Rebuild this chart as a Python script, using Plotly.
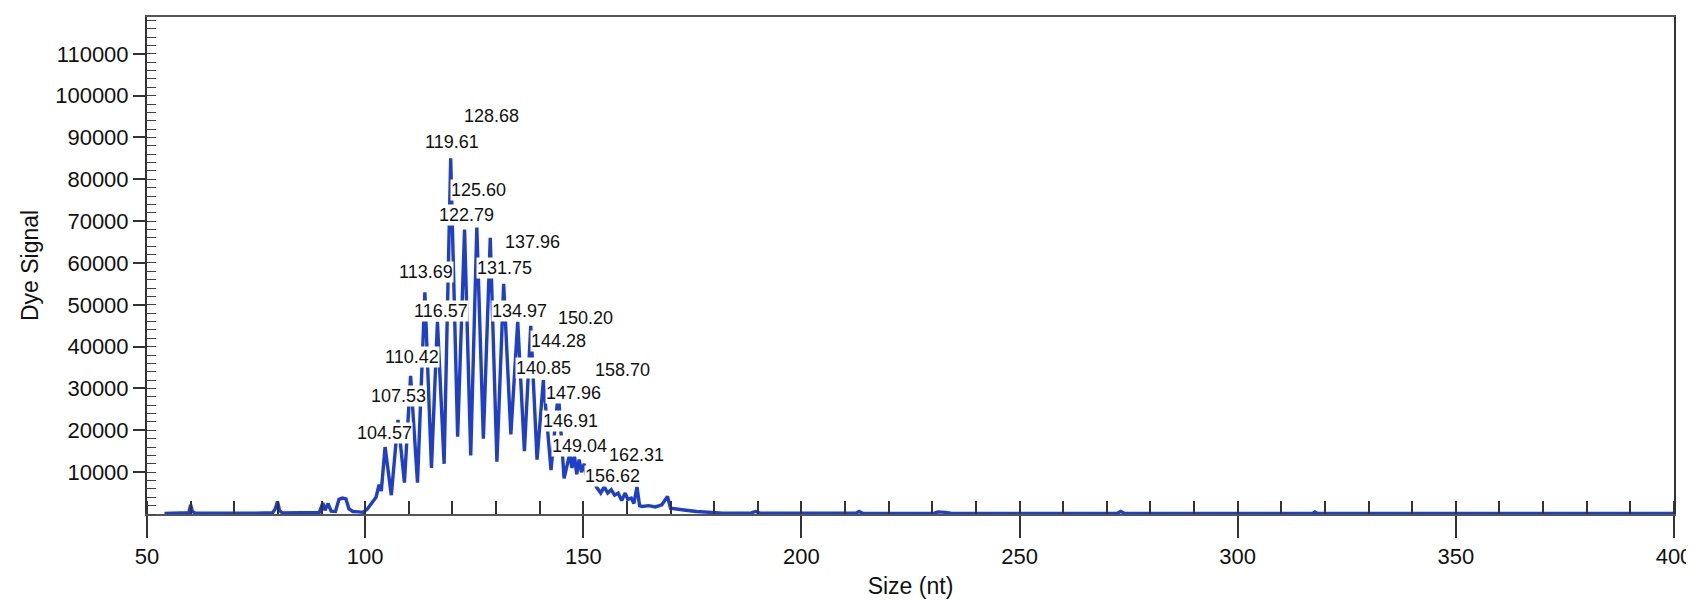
import plotly.graph_objects as go

# ---- data ----
size_nt = [54, 58, 59.6, 60.0, 60.4, 61, 65, 70, 75, 78.8, 79.4, 79.9, 80.4, 81, 85, 88, 89.5,
           90.3, 90.8, 91.5, 92.2, 93.2, 94.0, 94.8, 95.6, 96.3, 97.2, 98.5, 99.5, 100.5, 101.5,
           102.5, 103.2, 103.7,
           104.57, 106.0, 107.53, 109.0, 110.42, 112.0, 113.69, 115.2, 116.57, 118.1, 119.61,
           121.2, 122.79, 124.2, 125.60, 127.1, 128.68, 130.2, 131.75, 133.4, 134.97, 136.5,
           137.96, 139.4, 140.85, 142.6, 144.28, 145.6, 146.91, 147.4, 147.96, 148.5, 149.04,
           149.6, 150.20, 151.0, 152.0, 153.0, 154.0, 154.8, 155.6, 156.4, 157.2, 158.0, 158.8,
           159.6, 160.2, 161.0, 161.6, 162.31, 162.9, 163.5, 165.0, 166.5, 168.0, 169.3, 170.0,
           171.5, 173.5, 176, 179, 182, 188.5, 189.5, 190.5, 200, 212.5, 213.2, 214, 230.5, 231.3,
           233, 234.2, 250, 272.4, 273.2, 274, 300, 317.2, 317.7, 318.3, 350, 400]
signal = [150, 200, 300, 2200, 600, 250, 200, 250, 200, 300, 1200, 3000, 800, 250, 250, 300, 400,
          2600, 900, 2500, 700, 600, 3500, 3800, 3600, 1200, 600, 500, 400, 1200, 2600,
          4000, 7000, 5500,
          16000, 4500, 22500, 7500, 33000, 7500, 53000, 11000, 46000, 12000, 85000,
          18500, 68000, 14000, 68500, 18000, 66000, 12500, 55000, 19000, 46000, 15000,
          45000, 13000, 32000, 10500, 29000, 8500, 14500, 11000, 14000, 9500, 13000,
          10000, 12000, 8000, 9000, 6500, 5000, 6500, 5000, 5800, 4500, 5000, 3200,
          5000, 3500, 3800, 2500, 6500, 2000, 1800, 2000, 1700, 2200, 4200, 1400,
          1100, 900, 600, 300, 200, 250, 600, 200, 150, 200, 600, 150, 200, 500,
          400, 200, 150, 200, 600, 200, 150, 150, 500, 150, 150, 150]

peak_labels = ["128.68", "119.61", "125.60", "122.79", "137.96", "131.75", "113.69", "116.57",
               "134.97", "110.42", "107.53", "104.57", "150.20", "144.28", "140.85", "158.70",
               "147.96", "146.91", "149.04", "162.31", "156.62"]
label_x = [128.97, 120.02, 125.87, 123.23, 138.37, 131.95, 114.06, 117.5,
           135.39, 110.85, 107.64, 104.43, 150.5, 144.3, 140.87, 159.02,
           147.76, 147.07, 149.13, 162.2, 156.7]
label_y = [95100, 89000, 77400, 71400, 65000, 58800, 57900, 48600,
           48600, 37600, 28100, 19400, 46800, 41300, 34900, 34400,
           28900, 22300, 16300, 14200, 9200]

x_ticks = [50, 100, 150, 200, 250, 300, 350, 400]
y_ticks = [10000, 20000, 30000, 40000, 50000, 60000, 70000, 80000, 90000, 100000, 110000]

FONT = "Liberation Sans, Arial, sans-serif"

fig = go.Figure()
fig.add_trace(go.Scatter(x=size_nt, y=signal, mode="lines",
                         line=dict(color="#1d3fcc", width=3.4), showlegend=False,
                         hoverinfo="skip"))

for t, lx, ly in zip(peak_labels, label_x, label_y):
    fig.add_annotation(x=lx, y=ly, xref="x", yref="y", text=t, showarrow=False,
                       font=dict(family=FONT, size=18, color="#111"),
                       bgcolor="white", borderpad=0, xanchor="center", yanchor="middle")

fig.update_layout(
    width=1694, height=602,
    margin=dict(l=139, r=28, t=7, b=96),
    paper_bgcolor="white", plot_bgcolor="white",
    font=dict(family=FONT, color="#111"),
    xaxis=dict(range=[50, 400], tickmode="array", tickvals=x_ticks,
               ticks="outside", ticklen=22, tickwidth=1.5, tickcolor="#333",
               minor=dict(tickmode="linear", tick0=50, dtick=10, ticks="inside",
                          ticklen=13, tickwidth=1.5, tickcolor="#333"),
               showline=True, linecolor="#555", linewidth=1.5, mirror=True,
               showgrid=False, zeroline=False,
               tickfont=dict(family=FONT, size=22, color="#111"),
               title=dict(text="Size (nt)", font=dict(family=FONT, size=23, color="#111"),
                          standoff=10)),
    yaxis=dict(range=[0, 118800], tickmode="array", tickvals=y_ticks, tickformat="d",
               ticks="outside", ticklen=12, tickwidth=1.5, tickcolor="#333",
               minor=dict(tickmode="linear", tick0=0, dtick=2000, ticks="inside",
                          ticklen=9, tickwidth=1, tickcolor="#444"),
               showline=True, linecolor="#333", linewidth=2, mirror=True,
               showgrid=False, zeroline=False,
               tickfont=dict(family=FONT, size=22, color="#111"),
               title=dict(text="Dye Signal", font=dict(family=FONT, size=23, color="#111"),
                          standoff=10)),
)

fig.write_html("out.html")
